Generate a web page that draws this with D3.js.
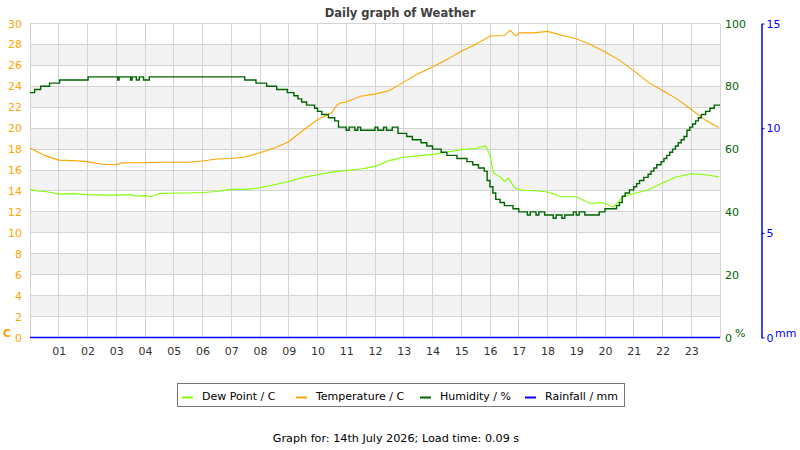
<!DOCTYPE html>
<html>
<head>
<meta charset="utf-8">
<script src="https://cdn.jsdelivr.net/npm/d3@7"></script>
<style>
  body { margin: 0; background: #fff; }
  svg text { font-family: "DejaVu Sans", sans-serif; }
</style>
</head>
<body>
<div id="chart"></div>
<script>
// readings as [hour, value]
const temperature = [
  [0, 18.1], [0.5, 17.4], [1, 16.95], [1.5, 16.9], [2, 16.8], [2.5, 16.55], [3, 16.5], [3.2, 16.68],
  [3.5, 16.7], [4, 16.7], [4.5, 16.75], [5, 16.75], [5.5, 16.75], [6, 16.87], [6.5, 17.06], [7, 17.1],
  [7.5, 17.25], [8, 17.65], [8.5, 18.1], [9, 18.7], [9.5, 19.8], [10, 20.8], [10.5, 21.5], [10.67, 22.2],
  [10.8, 22.4], [11, 22.5], [11.5, 23.05], [12, 23.25], [12.5, 23.6], [13, 24.4], [13.5, 25.2], [14, 25.85],
  [14.5, 26.55], [15, 27.35], [15.5, 28.0], [16, 28.8], [16.5, 28.85], [16.7, 29.35], [16.9, 28.8], [17, 29.1],
  [17.5, 29.1], [18, 29.25], [18.5, 28.87], [19, 28.55], [19.5, 28.0], [20, 27.28], [20.5, 26.5], [21, 25.47],
  [21.5, 24.4], [22, 23.6], [22.5, 22.8], [23, 21.78], [23.5, 20.75], [23.95, 20.06]
];

const dewPoint = [
  [0, 14.15], [0.25, 14.0], [0.5, 13.95], [0.75, 13.85], [1, 13.7], [1.5, 13.75], [2, 13.65], [2.5, 13.6],
  [3, 13.6], [3.5, 13.65], [3.7, 13.5], [4, 13.55], [4.2, 13.45], [4.5, 13.75], [5, 13.8], [5.5, 13.8],
  [6, 13.85], [6.5, 13.95], [7, 14.15], [7.5, 14.15], [8, 14.3], [8.5, 14.6], [9, 14.9], [9.5, 15.3],
  [10, 15.55], [10.5, 15.8], [11, 15.95], [11.5, 16.1], [12, 16.35], [12.5, 16.9], [13, 17.25], [13.5, 17.35],
  [14, 17.5], [14.5, 17.7], [15, 17.95], [15.5, 18.05], [15.85, 18.3], [16, 17.4], [16.12, 15.7], [16.35, 15.35],
  [16.5, 14.9], [16.64, 15.2], [16.87, 14.25], [17.16, 14.05], [17.5, 14.05], [18, 13.9], [18.5, 13.45], [19, 13.45],
  [19.5, 12.8], [19.9, 12.9], [20.3, 12.45], [20.6, 13.4], [21, 13.75], [21.5, 14.1], [22, 14.75], [22.5, 15.35],
  [23, 15.65], [23.5, 15.55], [23.95, 15.35]
];

// humidity changes in whole percent, drawn as steps
const humidity = [
  [0, 78], [0.16, 79], [0.37, 80], [0.68, 81], [1.03, 82], [2.02, 83], [3.05, 82], [3.1, 83], [3.5, 82],
  [3.55, 83], [3.7, 82], [3.8, 83], [3.95, 82], [4.15, 83], [7.47, 82], [7.86, 81], [8.23, 80], [8.58, 79],
  [8.95, 78], [9.18, 77], [9.32, 76], [9.45, 75], [9.62, 74], [9.9, 73], [10.0, 72], [10.15, 71], [10.38, 70],
  [10.6, 69], [10.73, 67], [11.0, 66], [11.1, 67], [11.3, 66], [11.4, 67], [11.5, 66], [12.0, 67], [12.1, 66],
  [12.3, 67], [12.4, 66], [12.6, 67], [12.8, 65], [13.1, 64], [13.3, 63], [13.6, 62], [13.8, 61], [14.0, 60],
  [14.3, 59], [14.5, 58], [14.85, 57], [15.2, 56], [15.4, 55], [15.6, 54], [15.8, 53], [15.9, 50], [16.0, 48],
  [16.1, 46], [16.2, 44], [16.35, 43], [16.5, 42], [16.8, 41], [17.0, 40], [17.3, 39], [17.4, 40], [17.6, 39],
  [17.7, 40], [17.9, 39], [18.2, 38], [18.3, 39], [18.5, 38], [18.6, 39], [18.9, 40], [19.0, 39], [19.1, 40],
  [19.3, 39], [19.8, 40], [20.0, 41], [20.4, 42], [20.5, 43], [20.6, 45], [20.7, 46], [20.85, 47], [21.0, 48],
  [21.1, 49], [21.2, 50], [21.35, 51], [21.5, 52], [21.6, 53], [21.7, 54], [21.8, 55], [21.95, 56], [22.05, 57],
  [22.15, 58], [22.25, 59], [22.35, 60], [22.45, 61], [22.55, 62], [22.65, 63], [22.75, 64], [22.85, 66],
  [22.95, 67], [23.05, 68], [23.15, 69], [23.25, 70], [23.35, 71], [23.5, 72], [23.65, 73], [23.8, 74], [24, 74]
];

const rainfall = [[0, 0], [24, 0]];

const hourLabels = ['01','02','03','04','05','06','07','08','09','10','11','12',
                    '13','14','15','16','17','18','19','20','21','22','23'];
const tempTicks = [0,2,4,6,8,10,12,14,16,18,20,22,24,26,28,30];
const humTicks = [0,20,40,60,80,100];
const rainTicks = [0,5,10,15];

const legendItems = [
  { name: 'Dew Point / C', color: '#80ff00' },
  { name: 'Temperature / C', color: '#ffa500' },
  { name: 'Humidity / %', color: '#006400' },
  { name: 'Rainfall / mm', color: '#0000ff' }
];

const W = 800, H = 450;
const m = { top: 23.5, right: 80, bottom: 112.5, left: 30 };
const x0 = m.left, x1 = W - m.right, y0 = H - m.bottom, y1 = m.top;

const svg = d3.select('#chart').append('svg')
    .attr('width', W).attr('height', H);

const x = d3.scaleLinear().domain([0, 24]).range([x0, x1]);
const yT = d3.scaleLinear().domain([0, 30]).range([y0, y1]);
const yH = d3.scaleLinear().domain([0, 100]).range([y0, y1]);
const yR = d3.scaleLinear().domain([0, 15]).range([y0, y1]);

// ── alternate bands ──
for (let t = 2; t < 30; t += 4) {
    svg.append('rect')
        .attr('x', x0).attr('width', x1 - x0)
        .attr('y', yT(t + 2)).attr('height', yT(t) - yT(t + 2))
        .attr('fill', '#f3f3f3');
}

// grid
const grid = svg.append('g').attr('stroke', '#d4d4d4').attr('stroke-width', 1).attr('shape-rendering', 'crispEdges');
tempTicks.forEach(t => {
    grid.append('line').attr('x1', x0).attr('x2', x1).attr('y1', yT(t)).attr('y2', yT(t));
});
d3.range(0, 25).forEach(h => {
    grid.append('line').attr('x1', x(h)).attr('x2', x(h)).attr('y1', y1).attr('y2', y0);
});

// left axis (temperature)
svg.append('g')
    .attr('transform', `translate(${x0},0)`)
    .call(d3.axisLeft(yT).tickValues(tempTicks).tickSize(0).tickPadding(8))
    .call(g => g.select('.domain').remove())
    .selectAll('text')
    .attr('fill', '#ffa500').attr('font-size', '11px').attr('font-family', '"DejaVu Sans", sans-serif');

svg.append('text')
    .attr('x', 3).attr('y', 337)
    .attr('fill', '#ffa500').attr('font-size', '11px').attr('font-weight', 'bold')
    .text('C');

// bottom axis
svg.append('g')
    .attr('transform', `translate(0,${y0})`)
    .call(d3.axisBottom(x).tickValues(d3.range(1, 24)).tickFormat(d => hourLabels[d - 1]).tickSize(0).tickPadding(10))
    .call(g => g.select('.domain').remove())
    .selectAll('text')
    .attr('fill', '#333').attr('font-size', '11px').attr('font-family', '"DejaVu Sans", sans-serif');

// humidity axis
svg.append('g')
    .attr('transform', `translate(${x1},0)`)
    .call(d3.axisRight(yH).tickValues(humTicks).tickSize(0).tickPadding(5))
    .call(g => g.select('.domain').remove())
    .selectAll('text')
    .attr('fill', '#006400').attr('font-size', '11px').attr('font-family', '"DejaVu Sans", sans-serif');

svg.append('text')
    .attr('x', 735).attr('y', 337)
    .attr('fill', '#006400').attr('font-size', '11px')
    .text('%');

// rainfall axis
const rainX = 761.5;
const rainAxis = svg.append('g')
    .attr('transform', `translate(${rainX},0)`)
    .call(d3.axisRight(yR).tickValues(rainTicks).tickSize(3).tickSizeOuter(0).tickPadding(2));
rainAxis.select('.domain').attr('stroke', '#0000ff').attr('stroke-width', 1.5);
rainAxis.selectAll('.tick line').attr('stroke', '#0000ff');
rainAxis.selectAll('text')
    .attr('fill', '#0000ff').attr('font-size', '11px').attr('font-family', '"DejaVu Sans", sans-serif');

svg.append('text')
    .attr('x', 775).attr('y', 337)
    .attr('fill', '#0000ff').attr('font-size', '11px')
    .text('mm');

// ── series ──
const lineT = d3.line().x(d => x(d[0])).y(d => yT(d[1]));
const lineH = d3.line().x(d => x(d[0])).y(d => yH(d[1])).curve(d3.curveStepAfter);
const lineR = d3.line().x(d => x(d[0])).y(d => yR(d[1]));

svg.append('path').datum(dewPoint)
    .attr('d', lineT).attr('fill', 'none').attr('stroke', '#80ff00').attr('stroke-width', 1.1);
svg.append('path').datum(temperature)
    .attr('d', lineT).attr('fill', 'none').attr('stroke', '#ffa500').attr('stroke-width', 1.1);
svg.append('path').datum(humidity)
    .attr('d', lineH).attr('fill', 'none').attr('stroke', '#006400').attr('stroke-width', 1.4);
svg.append('path').datum(rainfall)
    .attr('d', lineR).attr('fill', 'none').attr('stroke', '#0000ff').attr('stroke-width', 1.5);

// title
svg.append('text')
    .attr('x', 400).attr('y', 17)
    .attr('text-anchor', 'middle')
    .attr('font-family', '"DejaVu Sans Mono", monospace')
    .attr('font-size', '11.5px').attr('font-weight', 'bold')
    .attr('fill', '#404040')
    .text('Daily graph of Weather');

// legend
const legend = svg.append('g');
legend.append('rect')
    .attr('x', 177.5).attr('y', 383.5).attr('width', 447).attr('height', 23)
    .attr('fill', 'none').attr('stroke', '#777').attr('stroke-width', 1);
const legendX = [182, 296, 420, 525];
legendItems.forEach((it, i) => {
    legend.append('line')
        .attr('x1', legendX[i]).attr('x2', legendX[i] + 11)
        .attr('y1', 397.5).attr('y2', 397.5)
        .attr('stroke', it.color).attr('stroke-width', 2);
    legend.append('text')
        .attr('x', legendX[i] + 20).attr('y', 400)
        .attr('font-size', '11px').attr('fill', '#000')
        .text(it.name);
});

svg.append('text')
    .attr('x', 396).attr('y', 442)
    .attr('text-anchor', 'middle')
    .attr('font-size', '11.2px').attr('fill', '#000')
    .text('Graph for: 14th July 2026; Load time: 0.09 s');
</script>
</body>
</html>
